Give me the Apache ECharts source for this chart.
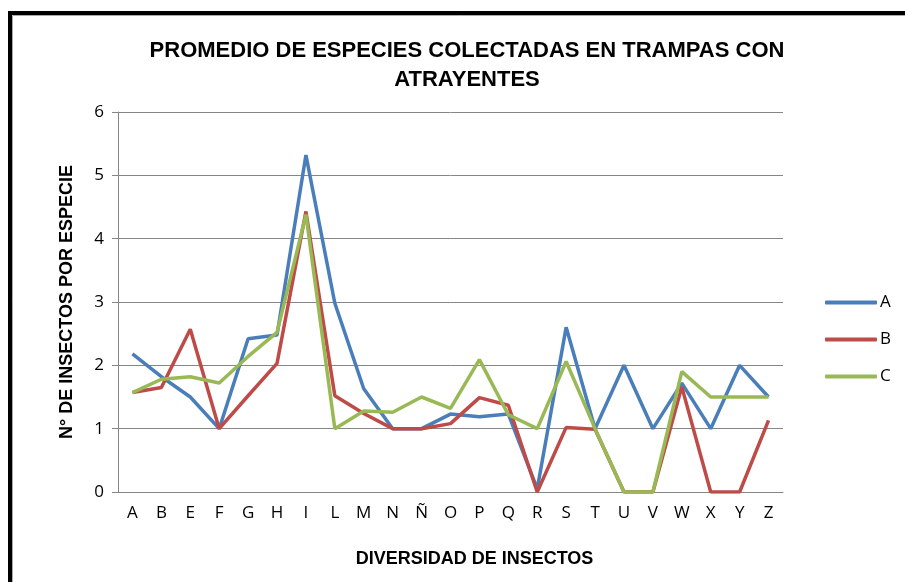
<!DOCTYPE html>
<html>
<head>
<meta charset="utf-8">
<script src="https://cdn.jsdelivr.net/npm/echarts@6/dist/echarts.min.js"></script>
<style>
  html, body { margin: 0; padding: 0; background: #fff; }
  #main { width: 905px; height: 582px; }
</style>
</head>
<body>
<div id="main"></div>
<script>
// datos
var categorias = ['A', 'B', 'E', 'F', 'G', 'H', 'I', 'L', 'M', 'N', 'Ñ', 'O', 'P', 'Q', 'R', 'S', 'T', 'U', 'V', 'W', 'X', 'Y', 'Z'];
var serieA = [2.18, 1.82, 1.5, 1, 2.42, 2.48, 5.32, 2.98, 1.63, 1, 1, 1.23, 1.19, 1.23, 0.05, 2.6, 1, 2, 1, 1.72, 1, 2, 1.5];
var serieB = [1.57, 1.65, 2.57, 1, 1.52, 2.03, 4.43, 1.52, 1.24, 1, 1, 1.08, 1.49, 1.37, 0, 1.02, 0.99, 0, 0, 1.66, 0, 0, 1.13];
var serieC = [1.57, 1.78, 1.82, 1.72, 2.14, 2.52, 4.38, 1, 1.28, 1.26, 1.5, 1.32, 2.09, 1.22, 1, 2.06, 1, 0, 0, 1.9, 1.5, 1.5, 1.5];
var ticksY = [0, 1, 2, 3, 4, 5, 6];

const initChart = () => {
    var chartDom = document.getElementById('main');
    var myChart = echarts.init(chartDom);
    const linea = (nombre, datos, color) => ({
        name: nombre,
        type: 'line',
        data: datos,
        symbol: 'none',
        lineStyle: { width: 3.5, color: color },
        itemStyle: { color: color }
    });
    const option = {
        animation: false,
        title: {
            text: 'PROMEDIO DE ESPECIES COLECTADAS EN TRAMPAS CON\nATRAYENTES',
            left: 462,
            textAlign: 'center',
            top: 31,
            textStyle: {
                fontFamily: 'Liberation Sans',
                fontWeight: 'bold',
                fontSize: 22,
                lineHeight: 29,
                color: '#000'
            }
        },
        graphic: [
            { type: 'rect', shape: { x: 10, y: 13, width: 910, height: 600 }, style: { fill: 'none', stroke: '#000', lineWidth: 4 } },
            { type: 'rect', shape: { x: 12.5, y: 15.5, width: 910, height: 600 }, style: { fill: 'none', stroke: '#aaa', lineWidth: 1 } }
        ],
        legend: {
            orient: 'vertical',
            left: 820,
            top: 289,
            itemGap: 20,
            itemWidth: 52,
            itemHeight: 4,
            icon: 'roundRect',
            textStyle: { fontFamily: 'Open Sans', fontSize: 17, color: '#000', padding: [0, 0, 0, -2] },
            data: ['A', 'B', 'C']
        },
        grid: { left: 118, top: 112, right: 122, bottom: 90 },
        xAxis: {
            type: 'category',
            data: categorias,
            boundaryGap: true,
            name: 'DIVERSIDAD DE INSECTOS',
            nameLocation: 'middle',
            nameGap: 58,
            nameTextStyle: { fontFamily: 'Liberation Sans', fontWeight: 'bold', fontSize: 18, color: '#000', padding: [0, 0, 0, 48] },
            axisLine: { lineStyle: { color: '#868686', width: 1 } },
            axisTick: { show: false },
            axisLabel: { fontFamily: 'Open Sans', fontSize: 17, color: '#000', margin: 13 }
        },
        yAxis: {
            type: 'value',
            min: ticksY[0],
            max: ticksY[ticksY.length - 1],
            interval: 1,
            name: 'N° DE INSECTOS POR ESPECIE',
            nameLocation: 'middle',
            nameGap: 42,
            nameTextStyle: { fontFamily: 'Liberation Sans', fontWeight: 'bold', fontSize: 18, color: '#000' },
            axisLine: { show: true, lineStyle: { color: '#868686', width: 1 } },
            axisTick: { show: true, inside: false, length: 6, lineStyle: { color: '#868686' } },
            axisLabel: { fontFamily: 'Open Sans', fontSize: 17, color: '#000', margin: 14 },
            splitLine: { lineStyle: { color: '#868686', width: 1 } }
        },
        series: [
            linea('A', serieA, '#4A7EBB'),
            linea('B', serieB, '#BE4B48'),
            linea('C', serieC, '#98B954')
        ]
    };
    myChart.setOption(option);
};
initChart();
</script>
</body>
</html>
